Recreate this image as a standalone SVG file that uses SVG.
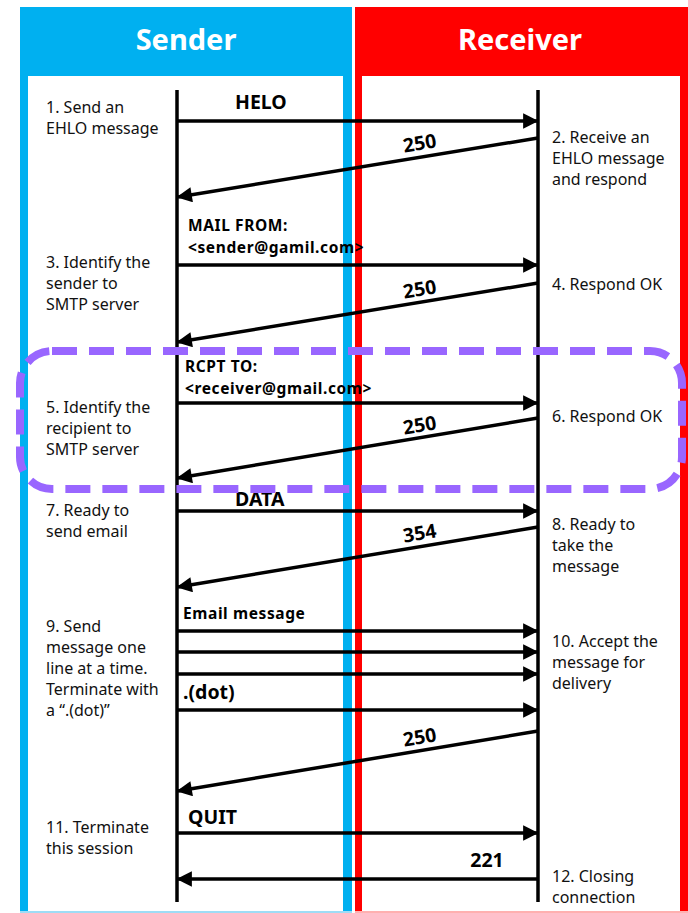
<svg xmlns="http://www.w3.org/2000/svg" width="688" height="913" viewBox="0 0 688 913">
<defs>
<style>
.lbl{font-family:"Noto Sans","Open Sans",sans-serif;font-size:16px;fill:#111}
.msg{font-family:"Noto Sans","Open Sans",sans-serif;font-size:15.5px;font-weight:bold;letter-spacing:0.6px;fill:#000}
.big{font-family:"Noto Sans","Open Sans",sans-serif;font-size:19.5px;font-weight:bold;fill:#000}
.hdr{font-family:"Noto Sans","Open Sans",sans-serif;font-size:29px;font-weight:bold;fill:#fff}
.life{stroke:#000;stroke-width:3.5}
.arr{stroke:#000;stroke-width:3.5;fill:none;marker-end:url(#ah)}
</style>
<marker id="ah" viewBox="0 0 10 10" refX="9" refY="5" markerWidth="5" markerHeight="4.4" orient="auto" markerUnits="strokeWidth">
<path d="M0,0 L10,5 L0,10 z" fill="#000"/>
</marker>
</defs>
<rect width="688" height="913" fill="#fff"/>
<g id="sender">
<rect x="20" y="7" width="332" height="906" fill="#00B0F0"/>
<rect x="28" y="76" width="315" height="835" fill="#fff"/>
<rect x="20" y="911" width="332" height="2" fill="#9fdcf5"/>
<text class="hdr" x="186" y="50" text-anchor="middle">Sender</text>
<line class="life" x1="177" y1="90" x2="177" y2="902"/>
</g>
<g id="receiver">
<rect x="355" y="7" width="333" height="906" fill="#FF0000"/>
<rect x="362" y="76" width="318" height="835" fill="#fff"/>
<rect x="355" y="911" width="333" height="2" fill="#ffb0b0"/>
<text class="hdr" x="520" y="50" text-anchor="middle">Receiver</text>
<line class="life" x1="538" y1="90" x2="538" y2="902"/>
</g>
<g id="sender-labels">
<text class="lbl" x="46" y="113">1. Send an</text>
<text class="lbl" x="46" y="134">EHLO message</text>
<text class="lbl" x="46" y="268">3. Identify the</text>
<text class="lbl" x="46" y="289">sender to</text>
<text class="lbl" x="46" y="310">SMTP server</text>
<text class="lbl" x="46" y="413">5. Identify the</text>
<text class="lbl" x="46" y="434">recipient to</text>
<text class="lbl" x="46" y="455">SMTP server</text>
<text class="lbl" x="46" y="516">7. Ready to</text>
<text class="lbl" x="46" y="537">send email</text>
<text class="lbl" x="46" y="632">9. Send</text>
<text class="lbl" x="46" y="653">message one</text>
<text class="lbl" x="46" y="674">line at a time.</text>
<text class="lbl" x="46" y="695">Terminate with</text>
<text class="lbl" x="46" y="716">a “.(dot)”</text>
<text class="lbl" x="46" y="833">11. Terminate</text>
<text class="lbl" x="46" y="854">this session</text>
</g>
<g id="receiver-labels">
<text class="lbl" x="552" y="143">2. Receive an</text>
<text class="lbl" x="552" y="164">EHLO message</text>
<text class="lbl" x="552" y="185">and respond</text>
<text class="lbl" x="552" y="290">4. Respond OK</text>
<text class="lbl" x="552" y="422">6. Respond OK</text>
<text class="lbl" x="552" y="530">8. Ready to</text>
<text class="lbl" x="552" y="551">take the</text>
<text class="lbl" x="552" y="572">message</text>
<text class="lbl" x="552" y="647">10. Accept the</text>
<text class="lbl" x="552" y="668">message for</text>
<text class="lbl" x="552" y="689">delivery</text>
<text class="lbl" x="552" y="882">12. Closing</text>
<text class="lbl" x="552" y="903">connection</text>
</g>
<g id="connectors">
<line class="arr" x1="177" y1="121" x2="537" y2="121"/>
<line class="arr" x1="538" y1="138" x2="178" y2="197"/>
<line class="arr" x1="177" y1="265" x2="537" y2="265"/>
<line class="arr" x1="538" y1="283" x2="178" y2="342"/>
<line class="arr" x1="177" y1="403" x2="537" y2="403"/>
<line class="arr" x1="538" y1="418" x2="178" y2="478"/>
<line class="arr" x1="177" y1="511" x2="537" y2="511"/>
<line class="arr" x1="538" y1="527" x2="178" y2="587"/>
<line class="arr" x1="177" y1="631" x2="537" y2="631"/>
<line class="arr" x1="177" y1="652" x2="537" y2="652"/>
<line class="arr" x1="177" y1="674" x2="537" y2="674"/>
<line class="arr" x1="177" y1="710" x2="537" y2="710"/>
<line class="arr" x1="538" y1="731" x2="178" y2="791"/>
<line class="arr" x1="177" y1="833" x2="537" y2="833"/>
<line class="arr" x1="538" y1="879" x2="178" y2="879"/>
</g>
<g id="message-labels">
<text class="big" x="235" y="109">HELO</text>
<text class="big" x="420" y="150" text-anchor="middle" transform="rotate(-9.4 420 145)">250</text>
<text class="msg" x="188" y="231">MAIL FROM:</text>
<text class="msg" x="188" y="253">&lt;sender@gamil.com&gt;</text>
<text class="big" x="420" y="296" text-anchor="middle" transform="rotate(-9.4 420 291)">250</text>
<text class="msg" x="185" y="372">RCPT TO:</text>
<text class="msg" x="185" y="394">&lt;receiver@gmail.com&gt;</text>
<text class="big" x="420" y="432" text-anchor="middle" transform="rotate(-9.4 420 427)">250</text>
<text class="big" x="235" y="506">DATA</text>
<text class="big" x="420" y="540" text-anchor="middle" transform="rotate(-9.4 420 535)">354</text>
<text class="msg" x="183" y="619">Email message</text>
<text class="big" x="183" y="699">.(dot)</text>
<text class="big" x="420" y="744" text-anchor="middle" transform="rotate(-9.4 420 739)">250</text>
<text class="big" x="188" y="824">QUIT</text>
<text class="big" x="487" y="867" text-anchor="middle">221</text>
</g>
<g id="highlight">
<rect x="20" y="351" width="662" height="138" rx="32" ry="32" fill="none" stroke="#9966FF" stroke-width="8" stroke-dasharray="25 12"/>
</g>
</svg>
